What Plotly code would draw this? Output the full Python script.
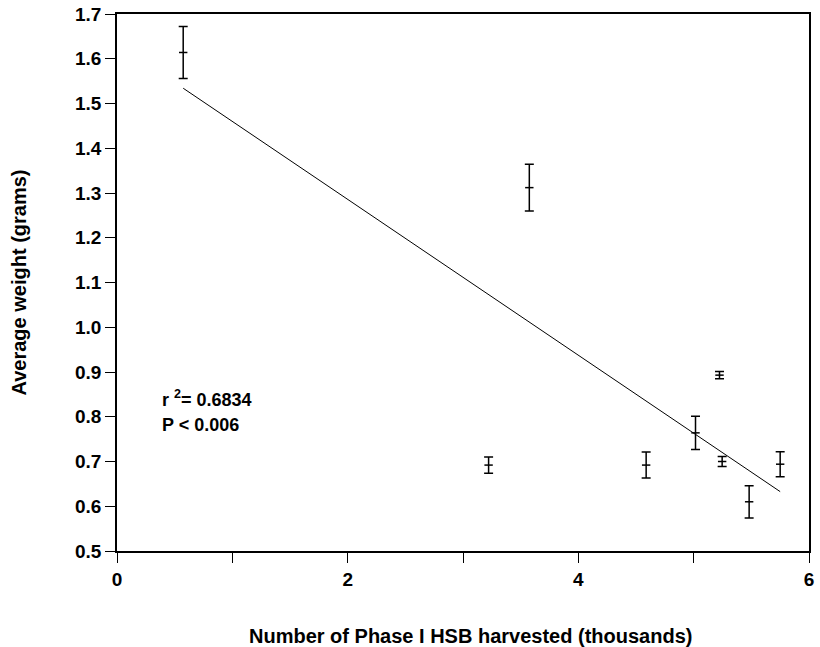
import numpy as np
import plotly.graph_objects as go

# Data
harvested_thousands = [0.574, 3.222, 3.575, 4.588, 5.016, 5.224, 5.247, 5.481, 5.750]
avg_weight_g = [1.614, 0.692, 1.312, 0.692, 0.764, 0.893, 0.700, 0.610, 0.694]
weight_err = [0.058, 0.018, 0.052, 0.029, 0.037, 0.008, 0.011, 0.036, 0.028]

x_tick_vals = [0, 2, 4, 6]
y_tick_vals = [0.5, 0.6, 0.7, 0.8, 0.9, 1.0, 1.1, 1.2, 1.3, 1.4, 1.5, 1.6, 1.7]
y_tick_text = ["0.5", "0.6", "0.7", "0.8", "0.9", "1.0", "1.1", "1.2", "1.3", "1.4", "1.5", "1.6", "1.7"]

x_title = "Number of Phase I HSB harvested (thousands)"
y_title = "Average weight (grams)"
r2_text = "r <sup>2</sup>= 0.6834"
p_text = "P < 0.006"

# Least-squares regression line
xs = np.array(harvested_thousands)
ys = np.array(avg_weight_g)
slope, intercept = np.polyfit(xs, ys, 1)
line_x = [xs.min(), xs.max()]
line_y = [slope * v + intercept for v in line_x]

font_family = "Liberation Sans, Arial, sans-serif"

fig = go.Figure()
fig.add_trace(go.Scatter(
    x=line_x, y=line_y, mode="lines",
    line=dict(color="black", width=1), showlegend=False, hoverinfo="skip",
))
fig.add_trace(go.Scatter(
    x=harvested_thousands, y=avg_weight_g, mode="markers",
    marker=dict(symbol="line-ew-open", size=6, color="black", line=dict(color="black", width=1.5)),
    error_y=dict(type="data", array=weight_err, visible=True, color="black", thickness=1.5, width=4.5),
    showlegend=False,
))

ann_font = dict(family=font_family, size=18, color="black", weight="bold")
fig.add_annotation(x=0.377, y=0.840, xref="x", yref="y", text=r2_text, showarrow=False,
                   xanchor="left", yanchor="middle", font=ann_font)
fig.add_annotation(x=0.377, y=0.782, xref="x", yref="y", text=p_text, showarrow=False,
                   xanchor="left", yanchor="middle", font=ann_font)

title_font = dict(family=font_family, size=20, color="black", weight="bold")
fig.add_annotation(x=0.5, y=0, xref="paper", yref="paper", text=x_title, showarrow=False,
                   xanchor="center", yanchor="middle", xshift=7, yshift=-85, font=title_font)
fig.add_annotation(x=0, y=0.5, xref="paper", yref="paper", text=y_title, showarrow=False,
                   textangle=-90, xanchor="center", yanchor="middle", xshift=-99, font=title_font)

tick_font = dict(family=font_family, size=19, color="black", weight="bold")

fig.update_layout(
    width=820, height=647,
    margin=dict(l=117, r=11, t=14, b=96),
    paper_bgcolor="white", plot_bgcolor="white",
    xaxis=dict(
        range=[0, 6], tickvals=x_tick_vals, ticktext=[str(v) for v in x_tick_vals],
        ticks="outside", ticklen=10, tickwidth=1, tickcolor="black",
        minor=dict(dtick=1, ticks="outside", ticklen=10, tickwidth=1, tickcolor="black", showgrid=False),
        showline=True, linecolor="black", linewidth=1.5, mirror=True,
        showgrid=False, zeroline=False, tickfont=tick_font, automargin=False,
    ),
    yaxis=dict(
        range=[0.5, 1.7], tickvals=y_tick_vals, ticktext=y_tick_text,
        ticks="outside", ticklen=10, tickwidth=1, tickcolor="black",
        showline=True, linecolor="black", linewidth=1.5, mirror=True,
        showgrid=False, zeroline=False, tickfont=tick_font, automargin=False,
    ),
)

fig.write_html("out.html", config={"displayModeBar": False})

# Remove the default page margin so the figure sits at the top-left corner
with open("out.html", "r", encoding="utf-8") as f:
    html = f.read()
html = html.replace("<head>", "<head><style>html,body{margin:0;padding:0;overflow:hidden;}</style>", 1)
with open("out.html", "w", encoding="utf-8") as f:
    f.write(html)
